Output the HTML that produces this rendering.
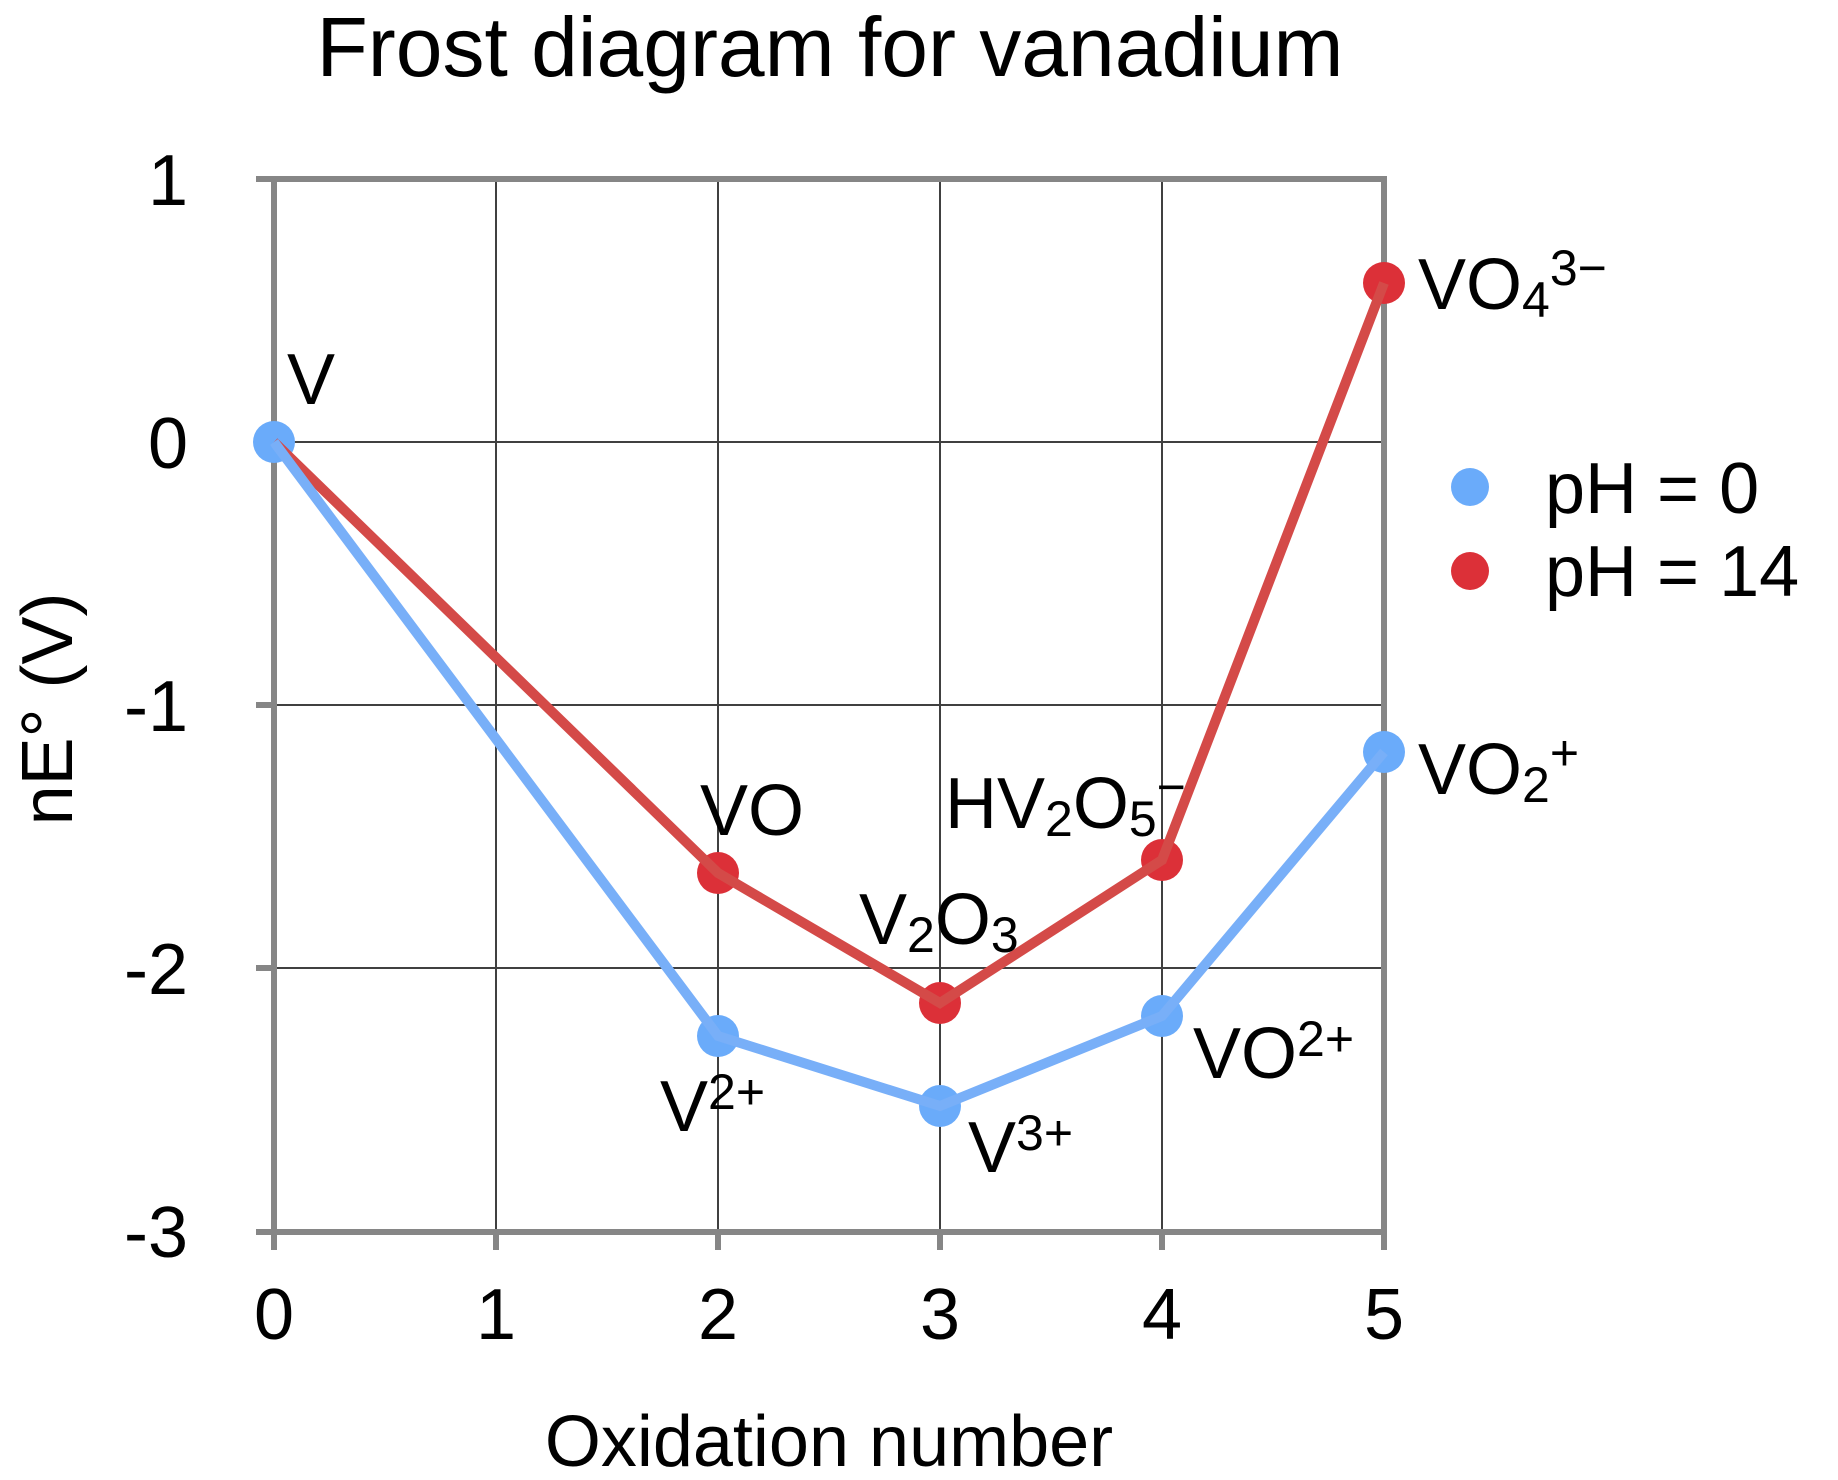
<!DOCTYPE html>
<html><head><meta charset="utf-8"><style>
html,body{margin:0;padding:0;background:#fff;}
svg{display:block;font-family:"Liberation Sans",sans-serif;}
</style></head><body>
<svg width="1838" height="1480" viewBox="0 0 1838 1480" xmlns="http://www.w3.org/2000/svg">
<rect width="1838" height="1480" fill="#fff"/>
<text x="830" y="76" font-size="84" text-anchor="middle">Frost diagram for vanadium</text>
<g stroke="#404040" stroke-width="2">
<line x1="496" y1="179" x2="496" y2="1232"/>
<line x1="718" y1="179" x2="718" y2="1232"/>
<line x1="940" y1="179" x2="940" y2="1232"/>
<line x1="1162" y1="179" x2="1162" y2="1232"/>
<line x1="274" y1="442" x2="1384" y2="442"/>
<line x1="274" y1="705" x2="1384" y2="705"/>
<line x1="274" y1="968" x2="1384" y2="968"/>
</g>
<g stroke="#868686" stroke-width="6">
<line x1="256" y1="179" x2="1387" y2="179"/>
<line x1="274" y1="176" x2="274" y2="1250"/>
<line x1="1384" y1="176" x2="1384" y2="1250"/>
<line x1="256" y1="1232" x2="1387" y2="1232"/>
<line x1="256" y1="442" x2="274" y2="442"/>
<line x1="256" y1="705" x2="274" y2="705"/>
<line x1="256" y1="968" x2="274" y2="968"/>
<line x1="496" y1="1232" x2="496" y2="1250"/>
<line x1="718" y1="1232" x2="718" y2="1250"/>
<line x1="940" y1="1232" x2="940" y2="1250"/>
<line x1="1162" y1="1232" x2="1162" y2="1250"/>
</g>
<g font-size="72" text-anchor="end">
<text x="188" y="205">1</text>
<text x="188" y="468">0</text>
<text x="188" y="731">-1</text>
<text x="188" y="994">-2</text>
<text x="188" y="1257">-3</text>
</g>
<g font-size="72" text-anchor="middle">
<text x="274" y="1339">0</text>
<text x="496" y="1339">1</text>
<text x="718" y="1339">2</text>
<text x="940" y="1339">3</text>
<text x="1162" y="1339">4</text>
<text x="1384" y="1339">5</text>
</g>
<text x="829" y="1466" font-size="72" text-anchor="middle">Oxidation number</text>
<text transform="translate(72,709) rotate(-90)" font-size="72" text-anchor="middle">nE° (V)</text>
<g fill="#6aabfa">
<circle cx="274" cy="442" r="21"/><circle cx="718" cy="1036" r="21"/><circle cx="940" cy="1106" r="21"/><circle cx="1162" cy="1016" r="21"/><circle cx="1384" cy="752" r="21"/>
</g>
<g fill="#dc3038">
<circle cx="718" cy="873" r="21"/><circle cx="940" cy="1003" r="21"/><circle cx="1162" cy="860" r="21"/><circle cx="1384" cy="283" r="21"/>
</g>
<polyline points="274,442 718,873 940,1003 1162,860 1384,283" fill="none" stroke="#d44a48" stroke-width="10"/>
<polyline points="274,442 718,1036 940,1106 1162,1016 1384,752" fill="none" stroke="#78aff8" stroke-width="10"/>
<g font-size="72">
<text x="287" y="404">V</text>
<text x="700" y="835">VO</text>
<text x="859" y="944">V<tspan font-size="50" dy="8">2</tspan><tspan dy="-8">O</tspan><tspan font-size="50" dy="8">3</tspan></text>
<text x="945" y="828">HV<tspan font-size="50" dy="8">2</tspan><tspan dy="-8">O</tspan><tspan font-size="50" dy="8">5</tspan><tspan font-size="50" dy="-32">−</tspan></text>
<text x="1418" y="309">VO<tspan font-size="50" dy="8">4</tspan><tspan font-size="50" dy="-32">3−</tspan></text>
<text x="1418" y="794">VO<tspan font-size="50" dy="8">2</tspan><tspan font-size="50" dy="-32">+</tspan></text>
<text x="1193" y="1078">VO<tspan font-size="50" dy="-22">2+</tspan></text>
<text x="660" y="1131">V<tspan font-size="50" dy="-22">2+</tspan></text>
<text x="968" y="1172">V<tspan font-size="50" dy="-22">3+</tspan></text>
</g>
<circle cx="1470" cy="487" r="19" fill="#6aabfa"/>
<circle cx="1470" cy="571" r="19" fill="#dc3038"/>
<text x="1545" y="513" font-size="72">pH = 0</text>
<text x="1545" y="596" font-size="72">pH = 14</text>
</svg>
</body></html>
